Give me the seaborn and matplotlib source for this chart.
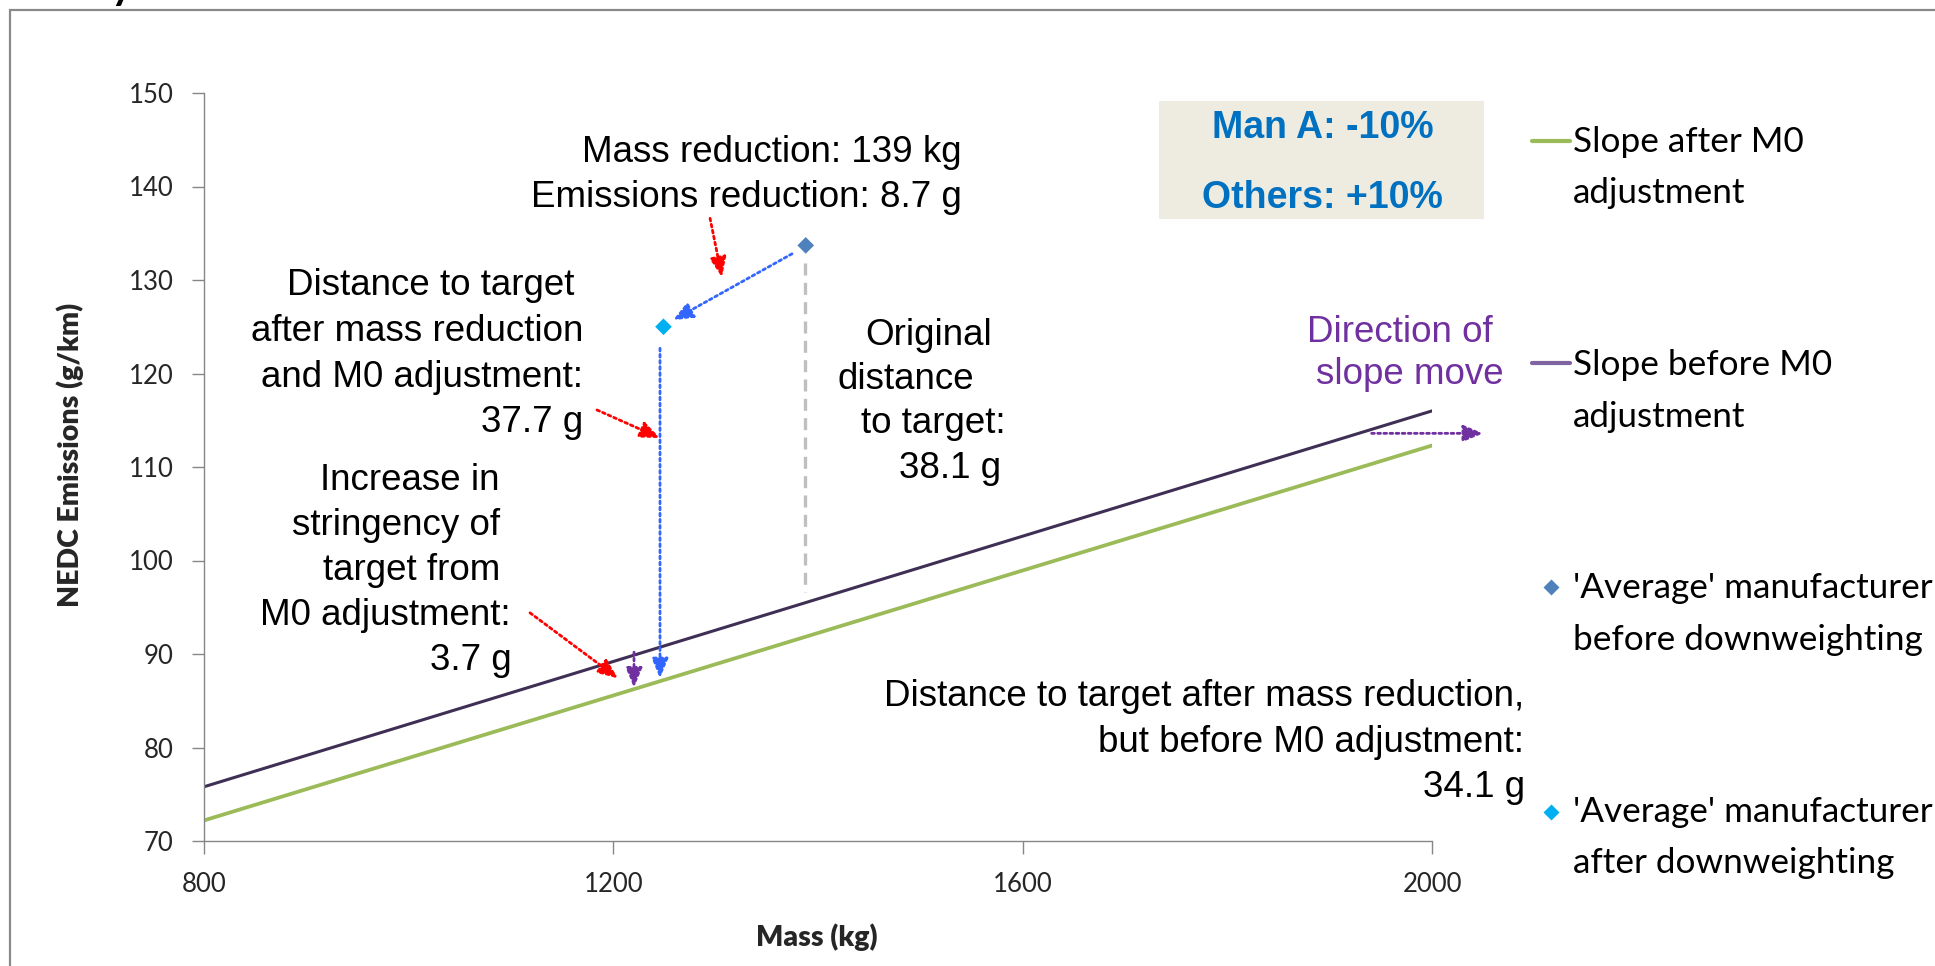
import matplotlib
matplotlib.use("Agg")
import matplotlib.pyplot as plt
from matplotlib.lines import Line2D
from matplotlib.patches import Rectangle
import seaborn as sns

# ---------------- data ----------------
mass_ends = [800, 2000]
slope_before = [75.8, 116.0]          # 'Slope before M0 adjustment'
slope_after = [72.2, 112.3]           # 'Slope after M0 adjustment'
avg_before_mass = [1388]
avg_before_em = [133.7]
avg_after_mass = [1249]
avg_after_em = [125.0]

x_ticks = [800, 1200, 1600, 2000]
y_ticks = [70, 80, 90, 100, 110, 120, 130, 140, 150]

# annotation arrows (start -> tip) in data units
red_arrows = [((1294.5, 136.6), (1306.2, 130.3)),
              ((1184.0, 116.1), (1245.6, 113.1)),
              ((1118.6, 94.4), (1204.6, 87.4))]
blue_arrows = [((1374.6, 132.8), (1258.3, 125.7)),
               ((1245.6, 122.7), (1245.6, 87.4))]
purple_arrows = [((1220.2, 90.2), (1220.2, 86.4)),
                 ((1941.0, 113.6), (2050.0, 113.6))]
grey_dash_mass = [1387.3, 1387.3]
grey_dash_em = [131.8, 96.6]

legend_labels = [["Slope after M0", "adjustment"],
                 ["Slope before M0", "adjustment"],
                 ["'Average' manufacturer", "before downweighting"],
                 ["'Average' manufacturer", "after downweighting"]]

# ---------------- style ----------------
GREEN = "#9BBB59"
PURPLE_LINE = "#3F2F55"
PURPLE_LEG = "#8064A2"
BLUE_PT = "#4F81BD"
CYAN_PT = "#00B0F0"
RED = "#FF0000"
BLUE_AR = "#3366FF"
PURPLE_AR = "#7030A0"
GREY_AX = "#868686"

sns.set_theme(style="white")
plt.rcParams["font.family"] = ["Lato", "DejaVu Sans"]
ARIAL = ["Liberation Sans", "DejaVu Sans"]

W, H = 1935, 966
fig = plt.figure(figsize=(W / 100, H / 100), dpi=100)


def fx(px):
    return px / W


def fy(py):
    return 1 - py / H


ax = fig.add_axes([fx(204), fy(841), (1432 - 204) / W, (841 - 93) / H])

sns.lineplot(x=mass_ends, y=slope_after, color=GREEN, ax=ax,
             estimator=None, sort=False)
ax.lines[-1].set_linewidth(2.7)
sns.lineplot(x=mass_ends, y=slope_before, color=PURPLE_LINE, ax=ax,
             estimator=None, sort=False)
ax.lines[-1].set_linewidth(2.2)

sns.lineplot(x=grey_dash_mass, y=grey_dash_em, color="#BFBFBF", ax=ax,
             estimator=None, sort=False)
ax.lines[-1].set_linewidth(2.4)
ax.lines[-1].set_linestyle((0, (3.6, 2.2)))

sns.scatterplot(x=avg_before_mass, y=avg_before_em, marker="D", s=72,
                color=BLUE_PT, edgecolor="none", ax=ax, zorder=5)
sns.scatterplot(x=avg_after_mass, y=avg_after_em, marker="D", s=72,
                color=CYAN_PT, edgecolor="none", ax=ax, zorder=5)


def arrow(start, tip, color):
    ax.annotate("", xy=tip, xytext=start, annotation_clip=False,
                arrowprops=dict(arrowstyle="-|>,head_length=0.6,head_width=0.25",
                                color=color, lw=2.0, linestyle=(0, (1, 1.2)),
                                shrinkA=0, shrinkB=0, mutation_scale=20))


for s, t in red_arrows:
    arrow(s, t, RED)
for s, t in blue_arrows:
    arrow(s, t, BLUE_AR)
for s, t in purple_arrows:
    arrow(s, t, PURPLE_AR)

ax.set_xlim(800, 2000)
ax.set_ylim(70, 150)
ax.set_xticks(x_ticks)
ax.set_yticks(y_ticks)
ax.tick_params(axis="both", which="both", direction="out", length=9,
               width=1, color=GREY_AX, labelsize=18.5, pad=13,
               bottom=True, left=True)
for sp in ["top", "right"]:
    ax.spines[sp].set_visible(False)
for sp in ["left", "bottom"]:
    ax.spines[sp].set_color(GREY_AX)
    ax.spines[sp].set_linewidth(1.0)

ax.set_xlabel("Mass (kg)", fontsize=20.5, fontweight="heavy")
ax.set_ylabel("NEDC Emissions (g/km)", fontsize=20.5, fontweight="heavy")
ax.xaxis.set_label_coords((817 - 204) / 1228, (841 - 937) / 748)
ax.xaxis.label.set_va("center")
ax.yaxis.set_label_coords((70 - 204) / 1228, (841 - 455) / 748)
ax.yaxis.label.set_va("center")

# ---------------- annotation text ----------------
ANN = dict(fontsize=26.5, family=ARIAL, va="baseline", color="black")


def put_lines(xs, baselines, texts, align, **kw):
    for x, b, t in zip(xs, baselines, texts):
        fig.text(fx(x), fy(b), t, ha=align, **kw)


put_lines([962, 962], [162, 207],
          ["Mass reduction: 139 kg", "Emissions reduction: 8.7 g"], "right", **ANN)
put_lines([574, 583, 583, 583], [295, 341, 387, 432],
          ["Distance to target", "after mass reduction",
           "and M0 adjustment:", "37.7 g"], "right", **ANN)
put_lines([500, 500, 500, 511, 512], [490, 535, 580, 625, 670],
          ["Increase in", "stringency of", "target from",
           "M0 adjustment:", "3.7 g"], "right", **ANN)
put_lines([992, 974, 1006, 1001], [345, 389, 433, 478],
          ["Original", "distance", "to target:", "38.1 g"], "right", **ANN)
put_lines([1524, 1524, 1525], [706, 752, 797],
          ["Distance to target after mass reduction,",
           "but before M0 adjustment:", "34.1 g"], "right", **ANN)
put_lines([1400, 1410], [342, 384], ["Direction of", "slope move"], "center",
          **{**ANN, "color": PURPLE_AR})

# beige box with Man A / Others
fig.add_artist(Rectangle((fx(1159), fy(219)), (1484 - 1159) / W, (219 - 101) / H,
                         transform=fig.transFigure, facecolor="#EEECE1",
                         edgecolor="none", zorder=1))
put_lines([1322.5, 1322.5], [138, 208], ["Man A: -10%", "Others: +10%"], "center",
          **{**ANN, "color": "#0070C0", "fontweight": "bold", "fontsize": 27})

# ---------------- legend (drawn manually, Excel-style) ----------------
LEG = dict(fontsize=25.3, va="baseline", color="black")
fig.add_artist(Line2D([fx(1532), fx(1570)], [fy(141)] * 2, color=GREEN, lw=3,
                      transform=fig.transFigure))
fig.add_artist(Line2D([fx(1532), fx(1570)], [fy(363)] * 2, color=PURPLE_LEG, lw=3,
                      transform=fig.transFigure))
fig.add_artist(Line2D([fx(1551)], [fy(587)], marker="D", ms=8.5, color=BLUE_PT,
                      mec="none", transform=fig.transFigure))
fig.add_artist(Line2D([fx(1551)], [fy(812)], marker="D", ms=8.5, color=CYAN_PT,
                      mec="none", transform=fig.transFigure))
for labels, (b1, b2) in zip(legend_labels, [(152, 203), (375, 427), (598, 650), (822, 873)]):
    put_lines([1573, 1573], [b1, b2], labels, "left", **LEG)

# ---------------- outer frame and cut-off title glyph ----------------
fig.add_artist(Rectangle((fx(10), -0.1), 1.2, fy(10) + 0.1, transform=fig.transFigure,
                         facecolor="none", edgecolor="#898989", lw=1.6, zorder=0))
fig.text(fx(122), fy(-1), "y", fontsize=30, fontweight="bold", ha="center",
         va="baseline", color="black")

fig.savefig("out.png", dpi=100)
